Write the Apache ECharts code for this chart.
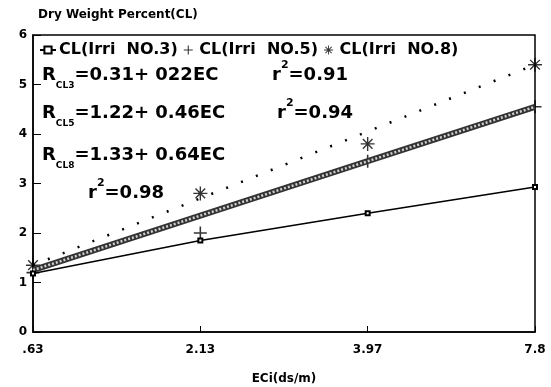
<!DOCTYPE html>
<html>
<head>
<meta charset="utf-8">
<script src="https://cdn.jsdelivr.net/npm/echarts@6/dist/echarts.min.js"></script>
<style>
  html, body { margin: 0; padding: 0; background: #fff; }
  #chart { width: 551px; height: 387px; }
</style>
</head>
<body>
<div id="chart"></div>
<script>
// x categories (EC, ds/m) - evenly spaced on the original axis
const categories = ['.63', '2.13', '3.97', '7.8'];
const yTicks = [0, 1, 2, 3, 4, 5, 6];

// CL(Irri NO.3): thin solid line
const no3 = [1.18, 1.85, 2.4, 2.93];
// CL(Irri NO.5): fitted (thick) line and observed points
const no5Fit = [1.25, 2.35, 3.45, 4.55];
const no5Obs = [1.2, 2.0, 3.45, 4.55];
// CL(Irri NO.8): fitted (dotted) line and observed points
const no8Fit = [1.35, 2.7, 4.05, 5.4];
const no8Obs = [1.35, 2.8, 3.8, 5.4];

const FONT = '"DejaVu Sans", sans-serif';
const PLUS = 'path://M4.4,0h1.2v4.4h4.4v1.2h-4.4v4.4h-1.2v-4.4h-4.4v-1.2h4.4z';
const STAR = 'path://M0,4.5h10v1h-10z M4.5,0h1v10h-1z M1.2,1.9L1.9,1.2L8.8,8.1L8.1,8.8z M8.1,1.2L8.8,1.9L1.9,8.8L1.2,8.1z';

const chart = echarts.init(document.getElementById('chart'));

const richStyle = {
  b: { fontFamily: FONT, fontWeight: 'bold', fontSize: 18, lineHeight: 30, fill: '#000' },
  sub: { fontFamily: FONT, fontWeight: 'bold', fontSize: 9, lineHeight: 12, verticalAlign: 'bottom', fill: '#000' },
  sup: { fontFamily: FONT, fontWeight: 'bold', fontSize: 11, lineHeight: 12, verticalAlign: 'top', fill: '#000' }
};

function eqText(x, y, text) {
  return { type: 'text', x: x, y: y, style: { text: text, rich: richStyle, fill: '#000' } };
}

const option = {
  animation: false,
  title: {
    text: 'Dry Weight Percent(CL)',
    left: 33,
    top: 4,
    textStyle: { fontFamily: FONT, fontWeight: 'bold', fontSize: 12, color: '#000' }
  },
  legend: {
    left: 34,
    top: 37,
    itemGap: 6,
    itemWidth: 16,
    itemHeight: 9,
    textStyle: { fontFamily: FONT, fontWeight: 'bold', fontSize: 16, color: '#000', padding: [0, 0, 0, -2] },
    data: ['CL(Irri  NO.3)', 'CL(Irri  NO.5)', 'CL(Irri  NO.8)']
  },
  grid: {
    left: 33, right: 16, top: 35, bottom: 55,
    containLabel: false, outerBoundsMode: 'none',
    show: true, borderColor: '#000', borderWidth: 1.5
  },
  xAxis: {
    type: 'category',
    data: categories,
    boundaryGap: false,
    name: 'ECi(ds/m)',
    nameLocation: 'middle',
    nameGap: 41,
    nameTextStyle: { fontFamily: FONT, fontWeight: 'bold', fontSize: 12, color: '#000' },
    axisLine: { lineStyle: { color: '#000', width: 1.5 } },
    axisTick: { inside: true, length: 6, lineStyle: { color: '#000' } },
    axisLabel: { fontFamily: FONT, fontWeight: 'bold', fontSize: 12, color: '#000', margin: 12 },
    splitLine: { show: false }
  },
  yAxis: {
    type: 'value',
    min: yTicks[0],
    max: yTicks[yTicks.length - 1],
    interval: 1,
    axisLine: { show: true, lineStyle: { color: '#000', width: 1.5 } },
    axisTick: { show: true, inside: true, length: 8, lineStyle: { color: '#000' } },
    axisLabel: { fontFamily: FONT, fontWeight: 'bold', fontSize: 12, color: '#000', margin: 6 },
    splitLine: { show: false }
  },
  series: [
    {
      name: 'CL(Irri  NO.3)',
      type: 'line',
      data: no3,
      symbol: 'emptyRect',
      symbolSize: 4,
      lineStyle: { color: '#000', width: 1.6 },
      itemStyle: { color: '#000', borderColor: '#000' }
    },
    {
      name: 'no5fit',
      type: 'line',
      data: no5Fit,
      showSymbol: false,
      lineStyle: { color: '#333', width: 6 }
    },
    {
      name: 'no5fitOverlay',
      type: 'line',
      data: no5Fit,
      showSymbol: false,
      lineStyle: { color: '#d0d0d0', width: 2.5, type: [2, 2] }
    },
    {
      name: 'CL(Irri  NO.5)',
      type: 'scatter',
      data: no5Obs,
      symbol: PLUS,
      symbolSize: 13,
      itemStyle: { color: '#000' }
    },
    {
      name: 'no8fit',
      type: 'line',
      data: no8Fit,
      showSymbol: false,
      lineStyle: { color: '#000', width: 2.5, type: [2, 14] }
    },
    {
      name: 'CL(Irri  NO.8)',
      type: 'scatter',
      data: no8Obs,
      symbol: STAR,
      symbolSize: 14,
      itemStyle: { color: '#000' }
    }
  ],
  graphic: [
    eqText(42, 60, '{b|R}{sub|CL3}{b|=0.31+ 022EC}'),
    eqText(272, 60, '{b|r}{sup|2}{b|=0.91}'),
    eqText(42, 98, '{b|R}{sub|CL5}{b|=1.22+ 0.46EC}'),
    eqText(277, 98, '{b|r}{sup|2}{b|=0.94}'),
    eqText(42, 140, '{b|R}{sub|CL8}{b|=1.33+ 0.64EC}'),
    eqText(88, 178, '{b|r}{sup|2}{b|=0.98}')
  ]
};

chart.setOption(option);
</script>
</body>
</html>
